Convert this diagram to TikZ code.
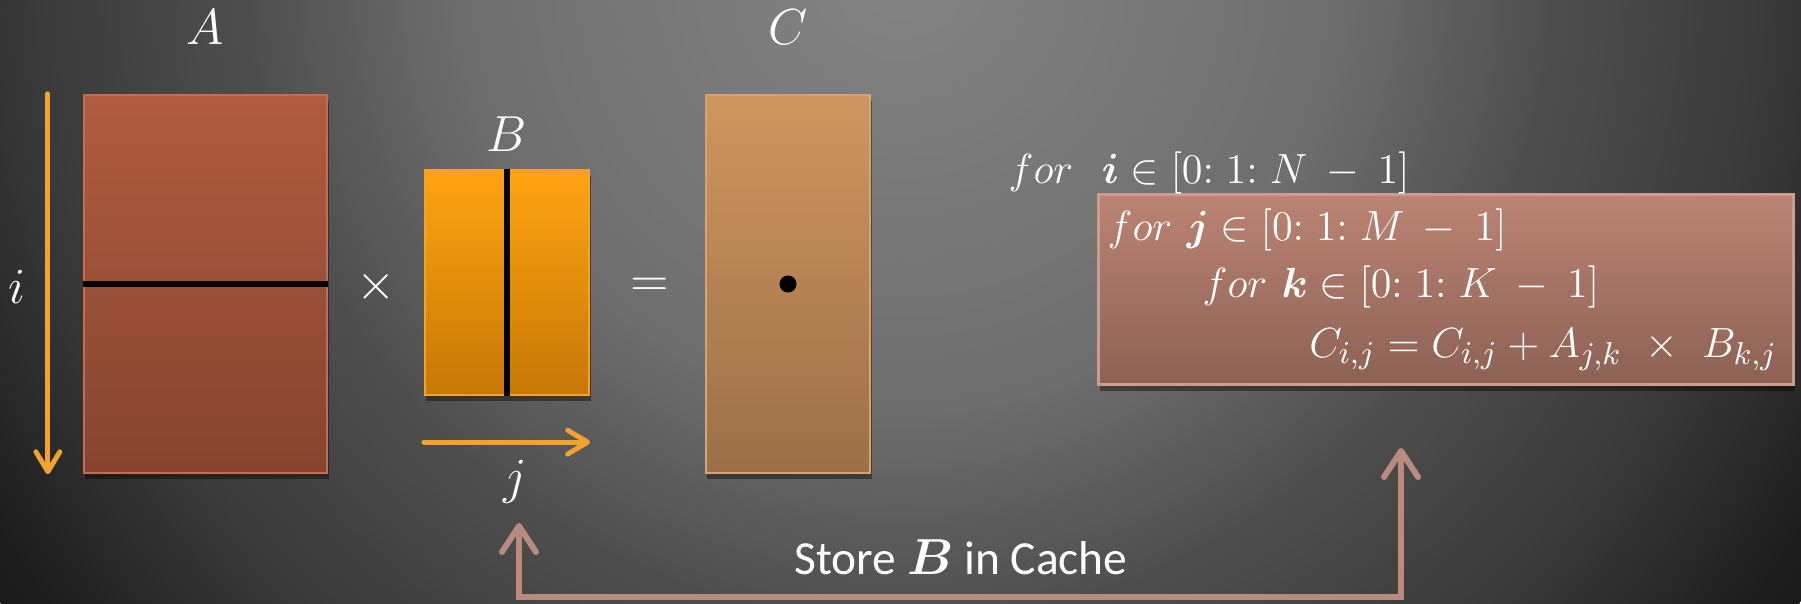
\documentclass[tikz,border=0pt]{standalone}
\usepackage{amsmath,amssymb,bm}
\usepackage[no-math]{fontspec}
\newfontfamily\slidefont{Carlito}
\usepackage{tikz}
\usetikzlibrary{arrows.meta,positioning,calc,shadows}

\definecolor{bg0}{HTML}{848484}
\definecolor{bg1}{HTML}{6E6E6E}
\definecolor{bg2}{HTML}{4E4E4E}
\definecolor{bg3}{HTML}{393939}
\definecolor{bg4}{HTML}{2E2E2E}
\definecolor{bg5}{HTML}{1D1D1D}
\definecolor{bg6}{HTML}{1A1A1A}
\definecolor{aTop}{HTML}{B15C40}
\definecolor{aBot}{HTML}{854330}
\definecolor{aEdge}{HTML}{C26E50}
\definecolor{bTop}{HTML}{FFA412}
\definecolor{bBot}{HTML}{C67806}
\definecolor{bEdge}{HTML}{F4A424}
\definecolor{cTop}{HTML}{CF965F}
\definecolor{cBot}{HTML}{9B7047}
\definecolor{cEdge}{HTML}{DAA26C}
\definecolor{boxTop}{HTML}{BB8474}
\definecolor{boxBot}{HTML}{8C6154}
\definecolor{boxEdge}{HTML}{CB9C90}
\definecolor{iterorange}{HTML}{F0A32E}
\definecolor{cacherose}{HTML}{B98A7E}

% path edge = 25bp
\pgfdeclareradialshading{slidebg}{\pgfpointorigin}{color(0bp)=(bg0); color(9.9bp)=(bg1); color(14.8bp)=(bg2); color(19.8bp)=(bg3); color(21.5bp)=(bg4); color(24.1bp)=(bg5); color(25bp)=(bg6); color(50bp)=(bg6)}

\begin{document}
\begin{tikzpicture}[x=0.01cm, y=-0.01cm,
  shade box/.style={drop shadow={fill=black, opacity=0.4, shadow xshift=0.15mm, shadow yshift=-0.6mm}},
  matbox/.style={draw, line width=0.6pt, inner sep=0pt, shade box},
  mlbl/.style={text=white, inner sep=0pt, font=\fontsize{14}{16}\selectfont},
  code/.style={text=white, inner sep=0pt, anchor=base west, font=\fontsize{12.5}{15}\selectfont},
  iter/.style={draw=iterorange, line width=1.4pt, line cap=round, -{Straight Barb[length=2mm, width=2.4mm, round]}},
  cache/.style={draw=cacherose, line width=1.7pt, {Straight Barb[length=2.6mm, width=3.4mm, round]}-{Straight Barb[length=2.6mm, width=3.4mm, round]}},
  cut/.style={black, line width=1.5pt}
]

\useasboundingbox (0,0) rectangle (1801,603);
\begin{scope}
  \clip (0,0) rectangle (1801,603);
  \shade[shading=slidebg] (900,-30) circle[radius=1100];
\end{scope}

% the three matrices
\node[matbox, minimum width=2.43cm, minimum height=3.78cm, top color=aTop, bottom color=aBot, draw=aEdge] (matA) at (205.5,284) {};
\node[matbox, minimum width=1.64cm, minimum height=2.25cm, top color=bTop, bottom color=bBot, draw=bEdge] (matB) at (507,282.5) {};
\node[matbox, minimum width=1.64cm, minimum height=3.78cm, top color=cTop, bottom color=cBot, draw=cEdge] (matC) at (788,284) {};

\draw[cut] (matA.west) -- (matA.east);
\draw[cut] (matB.north) -- (matB.south);
\node[circle, fill=black, minimum size=0.17cm, inner sep=0pt] (cij) at (matC.center) {};

\node[mlbl, above=0.49cm of matA] (labA) {$A$};
\node[mlbl, above=0.17cm of matB] (labB) {$B$};
\node[mlbl, above=0.49cm of matC] (labC) {$C$};
\node[mlbl] (labi) at (17,287) {$i$};
\node[mlbl] (times) at (376,287) {$\times$};
\node[mlbl] (equals) at (650,287) {$=$};
\node[mlbl] (labj) at (515,482) {$j$};

% row and column sweeps
\draw[iter] ([xshift=-0.35cm]matA.north west) -- ([xshift=-0.35cm]matA.south west);
\draw[iter] ([yshift=-0.46cm]matB.south west) -- ([yshift=-0.46cm]matB.south east);

% loop nest
\node[draw=boxEdge, line width=0.8pt, top color=boxTop, bottom color=boxBot, minimum width=6.94cm, minimum height=1.9cm, inner sep=0pt, shade box] (loopbox) at (1446,289.5) {};
\node[code] (loopi) at (1008,183) {$for\ \ \boldsymbol{i} \in [0{:}\;1{:}\;N\mskip4mu-\mskip4mu1]$};
\node[code] (loopj) at (1107,240) {$for\ \boldsymbol{j} \in [0{:}\;1{:}\;M\mskip4mu-\mskip4mu1]$};
\node[code] (loopk) at (1202,297) {$for\ \boldsymbol{k} \in [0{:}\;1{:}\;K\mskip4mu-\mskip4mu1]$};
\node[code, anchor=base east] (update) at (1778,357) {$C_{i,j} = C_{i,j} + A_{j,k}\ \times\ B_{k,j}$};

% cache link
\coordinate (cacheL) at (519,523);
\coordinate (cacheR) at (1401,448);
\draw[cache] (cacheL) -- ++(0,74) -| (cacheR);
\node[text=white, inner sep=0pt, font=\slidefont\fontsize{13.5}{16}\selectfont] (storelab) at (961,557) {Store $\boldsymbol{B}$ in Cache};

\end{tikzpicture}
\end{document}
